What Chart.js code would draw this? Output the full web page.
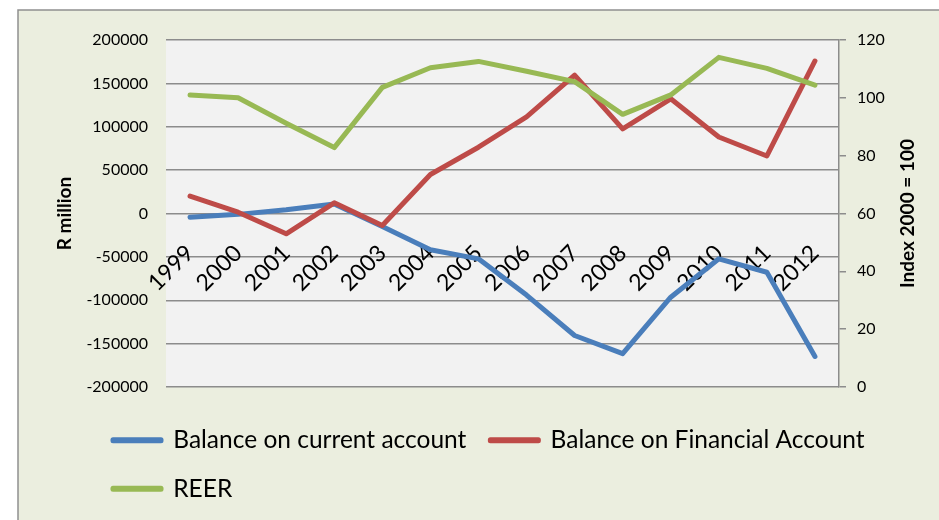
<!DOCTYPE html>
<html>
<head>
<meta charset="utf-8">
<script src="https://cdn.jsdelivr.net/npm/chart.js@4.4.0/dist/chart.umd.min.js"></script>
<style>
    body { margin: 0; background: #ffffff; }
    canvas { display: block; }
</style>
</head>
<body>
<canvas id="chartBalance" width="939" height="520"></canvas>
<script>
// 연도 (x축)
const years = ['1999', '2000', '2001', '2002', '2003', '2004', '2005', '2006', '2007', '2008', '2009', '2010', '2011', '2012'];
// 경상수지 (R million)
const currentAccount = [-4300, -1000, 4300, 11000, -15000, -41800, -52300, -94000, -140600, -161600, -96500, -52200, -67700, -164800];
// 금융계정 수지 (R million)
const financialAccount = [20000, 1500, -23400, 12300, -13800, 45000, 76400, 111500, 159600, 97600, 132200, 88200, 66300, 175800];
// 실질실효환율 (Index 2000 = 100)
const reer = [101, 100, 91.2, 82.8, 103.6, 110.4, 112.6, 109.2, 105.6, 94.3, 101, 114, 110.2, 104.4];

// 축 눈금
const leftTicks = { min: -200000, max: 200000, step: 50000 };
const rightTicks = { min: 0, max: 120, step: 20 };

const seriesNames = ['Balance on current account', 'Balance on Financial Account', 'REER'];
const leftTitle = 'R million';
const rightTitle = 'Index 2000 = 100';

const gridColor = '#8c8c8c';
const fontName = 'Lato, "Open Sans", sans-serif';

// 배경, 테두리, 오른쪽 축 제목
const framePlugin = {
    id: 'frame',
    afterLayout: function(chart){
        // 범례를 엑셀처럼 왼쪽으로 맞추기
        const lg = chart.legend;
        lg.left += 71;
        lg.right += 71;
        lg.top += 17;
        lg.bottom += 17;
    },
    beforeDraw: function(chart){
        const ctx = chart.ctx;
        const area = chart.chartArea;
        ctx.save();
        ctx.fillStyle = '#ffffff';
        ctx.fillRect(0, 0, chart.width, chart.height);
        ctx.fillStyle = '#ebeedf';
        ctx.fillRect(18, 10, chart.width, chart.height);
        ctx.strokeStyle = '#909090';
        ctx.lineWidth = 1.5;
        ctx.beginPath();
        ctx.moveTo(18, chart.height);
        ctx.lineTo(18, 10);
        ctx.lineTo(chart.width, 10);
        ctx.stroke();
        ctx.fillStyle = '#f2f2f2';
        ctx.fillRect(area.left, area.top, area.right - area.left, area.bottom - area.top);
        ctx.restore();
    },
    afterDraw: function(chart){
        const ctx = chart.ctx;
        const area = chart.chartArea;
        const y1 = chart.scales.y1;
        ctx.save();
        ctx.translate(y1.left + 69, (area.top + area.bottom) / 2);
        ctx.rotate(-Math.PI / 2);
        ctx.font = 'bold 19px ' + fontName;
        ctx.fillStyle = '#000000';
        ctx.textAlign = 'center';
        ctx.textBaseline = 'middle';
        ctx.fillText(rightTitle, 0, 0);
        ctx.restore();
    }
};

document.addEventListener("DOMContentLoaded", function(){
    const data = {
        labels: years,
        datasets: [{
            label: seriesNames[0],
            data: currentAccount,
            yAxisID: 'y',
            borderColor: '#4a7ebb',
            backgroundColor: '#4a7ebb',
            order: 3
        }, {
            label: seriesNames[1],
            data: financialAccount,
            yAxisID: 'y',
            borderColor: '#be4b48',
            backgroundColor: '#be4b48',
            order: 2
        }, {
            label: seriesNames[2],
            data: reer,
            yAxisID: 'y1',
            borderColor: '#98b954',
            backgroundColor: '#98b954',
            order: 1
        }]
    };

    const options = {
        responsive: false,
        maintainAspectRatio: false,
        animation: false,
        layout: {
            padding: { left: 18, right: 0, top: 40, bottom: 26 }
        },
        elements: {
            line: { borderWidth: 5, tension: 0, borderJoinStyle: 'round', borderCapStyle: 'round' },
            point: { radius: 0, hoverRadius: 0 }
        },
        scales: {
            x: {
                type: 'category',
                offset: true,
                position: { y: 0 },
                grid: { display: false },
                border: { display: false },
                ticks: {
                    color: '#000000',
                    font: { family: fontName, size: 23 },
                    minRotation: 45,
                    maxRotation: 45,
                    autoSkip: false,
                    padding: 18
                }
            },
            y: {
                position: 'left',
                min: leftTicks.min,
                max: leftTicks.max,
                afterFit: function(scale){ scale.width = 148; },
                grid: { color: gridColor, lineWidth: 1.5, drawTicks: false },
                border: { display: false },
                ticks: {
                    stepSize: leftTicks.step,
                    color: '#000000',
                    padding: 18,
                    font: { family: fontName, size: 16 },
                    callback: function(value){ return String(value); }
                },
                title: {
                    display: true,
                    text: leftTitle,
                    color: '#000000',
                    font: { family: fontName, size: 19, weight: 'bold' },
                    padding: { top: 35 }
                }
            },
            y1: {
                position: 'right',
                min: rightTicks.min,
                max: rightTicks.max,
                afterFit: function(scale){ scale.width = 100; },
                grid: { drawOnChartArea: false, color: gridColor, lineWidth: 1.5, tickLength: 7 },
                border: { display: true, color: gridColor, width: 1.5 },
                ticks: {
                    stepSize: rightTicks.step,
                    color: '#000000',
                    padding: 11,
                    font: { family: fontName, size: 16 }
                }
            }
        },
        plugins: {
            title: { display: false },
            tooltip: { enabled: false },
            legend: {
                display: true,
                position: 'bottom',
                align: 'start',
                labels: {
                    color: '#000000',
                    font: { family: fontName, size: 24.5 },
                    boxWidth: 48,
                    boxHeight: 1,
                    padding: 24,
                    sort: function(a, b){ return a.datasetIndex - b.datasetIndex; }
                }
            }
        }
    };

    const ctx = document.getElementById('chartBalance').getContext('2d');
    const chartBalance = new Chart(ctx, {
        type: 'line',
        data: data,
        options: options,
        plugins: [framePlugin]
    });
});
</script>
</body>
</html>
